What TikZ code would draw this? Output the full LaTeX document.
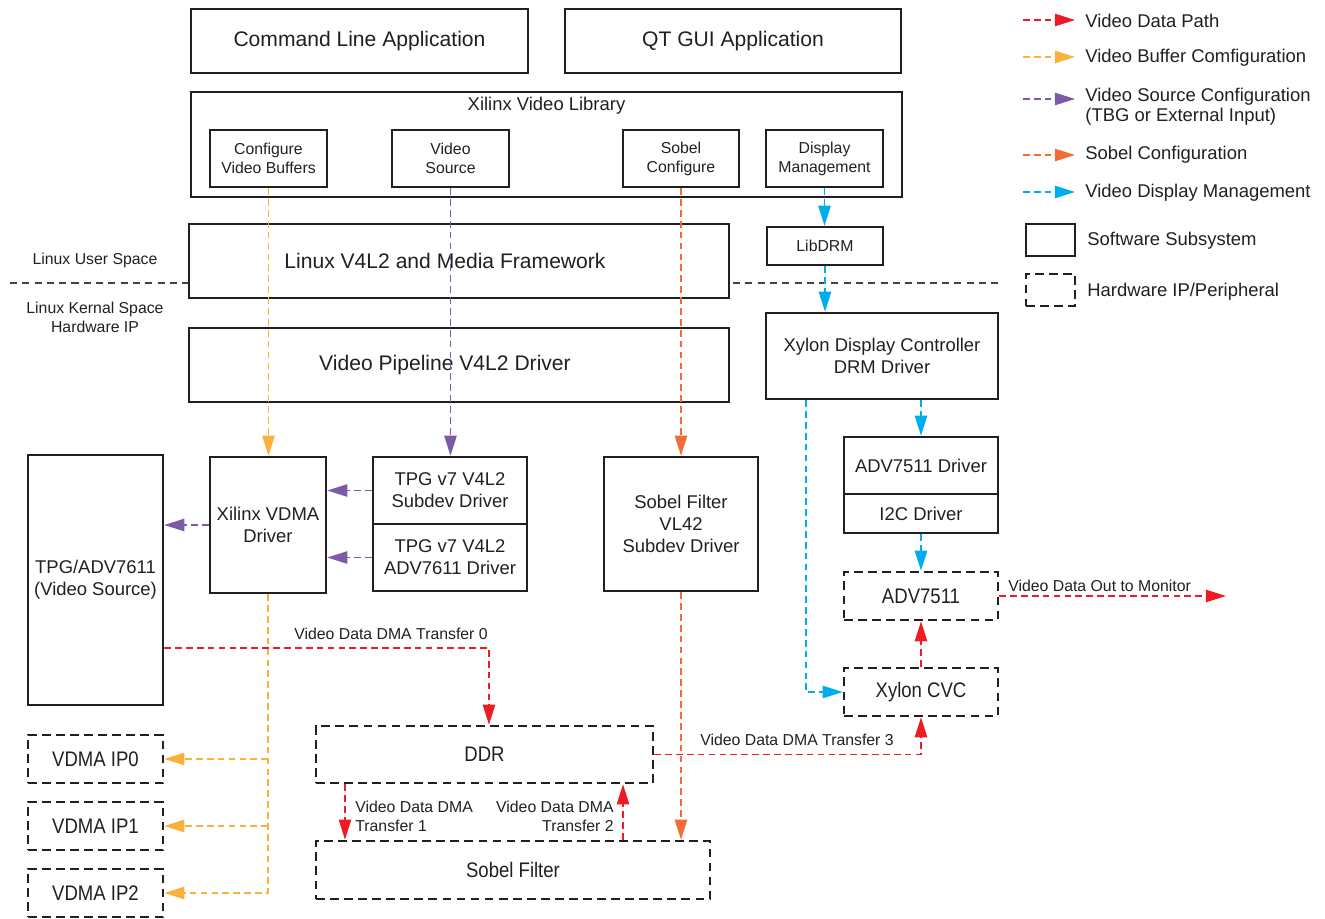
\documentclass[tikz,border=0pt]{standalone}
\usepackage{fontspec}
\setmainfont{Liberation Sans}
\newfontfamily\condfont[FakeStretch=0.88]{Liberation Sans}
\usetikzlibrary{arrows.meta,fit,calc}
\definecolor{ink}{HTML}{231F20}
\definecolor{vred}{HTML}{ED1C24}
\definecolor{vyel}{HTML}{FBB03B}
\definecolor{vpur}{HTML}{7B5AA6}
\definecolor{vora}{HTML}{F26D35}
\definecolor{vcya}{HTML}{00AEEF}
\newcommand\fsL{\fontsize{12}{14}\selectfont}
\newcommand\fsH{\fontsize{12}{14}\selectfont\condfont}
\newcommand\fsM{\fontsize{10.5}{12.6}\selectfont}
\newcommand\fsS{\fontsize{9}{10.8}\selectfont}
\newcommand\fsG{\fontsize{10.5}{11.4}\selectfont}
% box with centred text: style, name, fit corners, font, text
\newcommand\bxt[5]{\node[#1, fit={#3}] (#2) {}; \node[lbl, align=center, font=#4] (#2-t) at (#2.center) {#5};}
\tikzset{
  box/.style={draw=ink, line width=1.4pt, inner sep=0pt},
  hwbox/.style={box, dash pattern=on 5pt off 3pt},
  lbl/.style={text=ink, inner sep=0pt},
  conn/.style={line width=1.1pt, dash pattern=on 3.8pt off 2.4pt, -{Triangle[length=11.5pt,width=7pt]}},
  cred/.style={conn, color=vred}, cyel/.style={conn, color=vyel}, cpur/.style={conn, color=vpur},
  cora/.style={conn, color=vora}, ccya/.style={conn, color=vcya},
  sep/.style={draw=ink!85, line width=0.8pt, dash pattern=on 4pt off 3pt}
}
\begin{document}
\begin{tikzpicture}[x=0.02cm, y=-0.02cm]
\useasboundingbox (0,0) rectangle (1325,919);

% ---------- application layer ----------
\bxt{box}{cla}{(191,9) (528,73)}{\fsL}{Command Line Application}
\bxt{box}{qt}{(565,9) (901,73)}{\fsL}{QT GUI Application}

% ---------- Xilinx video library ----------
\node[box, fit={(191,92) (902,197)}] (xvl) {};
\node[lbl, font=\fsM] (xvlt) at (546.5,106) {Xilinx Video Library};
\bxt{box}{cvb}{(210,130) (327,187)}{\fsS}{Configure\\Video Buffers}
\bxt{box}{vs}{(392,130) (509,187)}{\fsS}{Video\\Source}
\bxt{box}{sc}{(623,130) (739,187)}{\fsS}{Sobel\\Configure}
\bxt{box}{dm}{(766,130) (883,187)}{\fsS}{Display\\Management}

% ---------- frameworks ----------
\node[box, fit={(189,224) (729,298)}] (v4l2) {};
\node[lbl, font=\fsL] (v4l2-t) at (445,261) {Linux V4L2 and Media Framework};
\bxt{box}{drm}{(767,227) (883,265)}{\fsS}{LibDRM}
\node[box, fit={(189,328) (729,402)}] (vpd) {};
\node[lbl, font=\fsL] (vpd-t) at (445,365) {Video Pipeline V4L2 Driver};
\bxt{box}{xdc}{(766,313) (998,399)}{\fsM}{Xylon Display Controller\\DRM Driver}

% separator and space labels
\coordinate (sepL) at (10,283);
\coordinate (sepR0) at (733,283);
\coordinate (sepR1) at (1000,283);
\draw[sep] (sepL) -- (sepL -| v4l2.west);
\draw[sep] (sepR0) -- (sepR1);
\node[lbl, font=\fsS] (lus) at (95,260) {Linux User Space};
\node[lbl, font=\fsS, align=center] (lks) at (95,317) {Linux Kernal Space\\Hardware IP};

% ---------- drivers ----------
\bxt{box}{src}{(28,455) (163,705)}{\fsM}{TPG/ADV7611\\(Video Source)}
\bxt{box}{vdma}{(210,457) (326,593)}{\fsM}{Xilinx VDMA\\Driver}
\bxt{box}{tpgs}{(373,457) (527,524)}{\fsM}{TPG v7 V4L2\\Subdev Driver}
\bxt{box}{tpga}{(373,524) (527,591)}{\fsM}{TPG v7 V4L2\\ADV7611 Driver}
\bxt{box}{sobd}{(604,457) (758,591)}{\fsM}{Sobel Filter\\VL42\\Subdev Driver}
\bxt{box}{advd}{(844,437) (998,494)}{\fsM}{ADV7511 Driver}
\bxt{box}{i2c}{(844,494) (998,533)}{\fsM}{I2C Driver}

% ---------- hardware ----------
\bxt{hwbox}{adv}{(844,572) (998,620)}{\fsH}{ADV7511}
\bxt{hwbox}{cvc}{(844,668) (998,716)}{\fsH}{Xylon CVC}
\bxt{hwbox}{ddr}{(316,726) (653,783)}{\fsH}{DDR}
\bxt{hwbox}{sobf}{(316,841) (710,899)}{\fsH}{Sobel Filter}
\bxt{hwbox}{ip0}{(28,735) (163,783)}{\fsH}{VDMA IP0}
\bxt{hwbox}{ip1}{(28,802) (163,850)}{\fsH}{VDMA IP1}
\bxt{hwbox}{ip2}{(28,869) (163,917)}{\fsH}{VDMA IP2}

% ---------- yellow: buffer configuration ----------
\draw[cyel] (cvb.south) -- (cvb.south |- vdma.north);
\draw[cyel] (vdma.south) |- (ip2.east);
\draw[cyel] (vdma.south |- ip0.east) -- (ip0.east);
\draw[cyel] (vdma.south |- ip1.east) -- (ip1.east);

% ---------- purple: source configuration ----------
\draw[cpur] (vs.south) -- (vs.south |- tpgs.north);
\draw[cpur] (tpgs.west) -- (tpgs.west -| vdma.east);
\draw[cpur] (tpga.west) -- (tpga.west -| vdma.east);
\draw[cpur] (vdma.west) -- (vdma.west -| src.east);

% ---------- orange: sobel configuration ----------
\draw[cora] (sc.south) -- (sc.south |- sobd.north);
\draw[cora] (sobd.south) -- (sobd.south |- sobf.north);

% ---------- cyan: display management ----------
\draw[ccya] (dm.south) -- (dm.south |- drm.north);
\draw[ccya] (drm.south) -- (drm.south |- xdc.north);
\draw[ccya] (advd.north |- xdc.south) -- (advd.north);
\draw[ccya] (i2c.south) -- (adv.north);
\coordinate (cyx) at (806,0);
\draw[ccya] (xdc.south -| cyx) |- (cvc.west);

% ---------- red: video data ----------
\coordinate (t0x) at (489,0);
\coordinate (t0y) at (0,648);
\coordinate (t1x) at (345,0);
\coordinate (t2x) at (623,0);
\draw[cred] (src.east |- t0y) -| (ddr.north -| t0x);
\draw[cred] (ddr.south -| t1x) -- (sobf.north -| t1x);
\draw[cred] (sobf.north -| t2x) -- (ddr.south -| t2x);
\draw[cred] (ddr.east) -| (cvc.south);
\draw[cred] (cvc.north) -- (adv.south);
\coordinate (mon) at (1226,596);
\draw[cred] (adv.east) -- (mon);

\node[lbl, font=\fsS, anchor=base] (l0) at (391,639) {Video Data DMA Transfer 0};
\node[lbl, font=\fsS, anchor=base west] (l3) at (700,745) {Video Data DMA Transfer 3};
\node[lbl, font=\fsS, anchor=base west] (lm) at (1008,591) {Video Data Out to Monitor};
\node[lbl, font=\fsS, align=left, anchor=west] (l1) at (355,816) {Video Data DMA\\Transfer 1};
\node[lbl, font=\fsS, align=right, anchor=east] (l2) at (614,816) {Video Data DMA\\Transfer 2};

% ---------- legend ----------
\coordinate (g1a) at (1023,20);  \coordinate (g1b) at (1075,20);
\coordinate (g2a) at (1023,57);  \coordinate (g2b) at (1075,57);
\coordinate (g3a) at (1023,99);  \coordinate (g3b) at (1075,99);
\coordinate (g4a) at (1023,155); \coordinate (g4b) at (1075,155);
\coordinate (g5a) at (1023,192); \coordinate (g5b) at (1075,192);
\draw[cred] (g1a) -- (g1b);
\draw[cyel] (g2a) -- (g2b);
\draw[cpur] (g3a) -- (g3b);
\draw[cora] (g4a) -- (g4b);
\draw[ccya] (g5a) -- (g5b);
\node[lbl, font=\fsG, anchor=west] (gt1) at (1085,21) {Video Data Path};
\node[lbl, font=\fsG, anchor=west] (gt2) at (1085,58) {Video Buffer Comfiguration};
\node[lbl, font=\fsG, anchor=west, align=left] (gt3) at (1085,107) {Video Source Configuration\\(TBG or External Input)};
\node[lbl, font=\fsG, anchor=west] (gt4) at (1085,155) {Sobel Configuration};
\node[lbl, font=\fsG, anchor=west] (gt5) at (1085,193) {Video Display Management};
\node[box, fit={(1026,224) (1075,256)}] (gsw) {};
\node[hwbox, fit={(1026,274) (1075,306)}] (ghw) {};
\node[lbl, font=\fsG, anchor=west] (gt6) at (1087,241) {Software Subsystem};
\node[lbl, font=\fsG, anchor=west] (gt7) at (1087,292) {Hardware IP/Peripheral};
\end{tikzpicture}
\end{document}
